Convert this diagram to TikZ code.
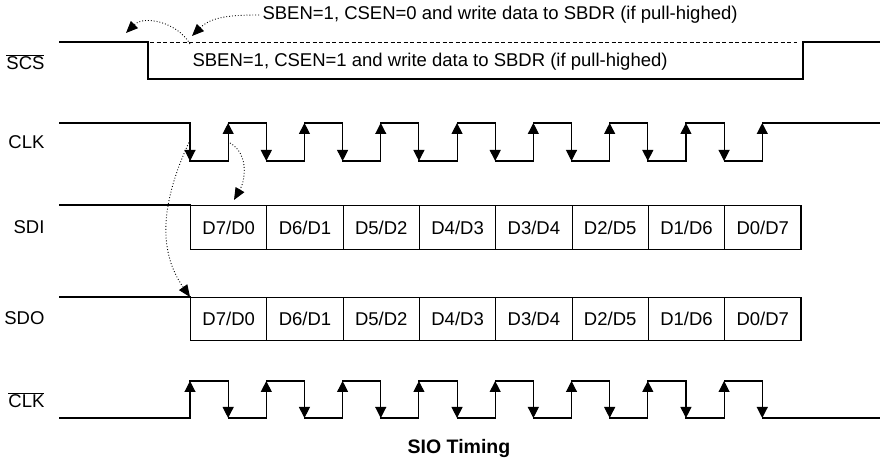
\documentclass[tikz,border=0pt]{standalone}
\usepackage{fontspec}
\setmainfont{Liberation Sans}
\usepackage{tikz}
\usetikzlibrary{positioning,arrows.meta}

\begin{document}
\begin{tikzpicture}[
      x=1pt, y=1pt,
      every node/.style={font=\fontsize{18.5}{21}\selectfont},
      sig/.style={line width=1.1pt, line cap=rect},
      edge/.style={line width=1.1pt, -{Triangle[length=11pt,width=11pt]}},
      cell/.style={draw, line width=1.1pt, minimum width=76.3pt, minimum height=44pt, inner sep=0pt, anchor=north west},
      signame/.style={anchor=east},
      hint/.style={dotted, line width=0.9pt, -{Triangle[length=12pt,width=10pt]}}
    ]
      \useasboundingbox (0,0) rectangle (880,468);

      % Signal names
      \node[signame] (scs) at (48,406) {$\overline{\hbox{SCS}}$};
      \node[signame] (clk) at (48,326) {CLK};
      \node[signame] (sdi) at (48,241) {SDI};
      \node[signame] (sdo) at (48,150) {SDO};
      \node[signame] (nclk) at (48,68) {$\overline{\hbox{CLK}}$};

      % SCS
      \draw[sig] (60,426) -- (148,426) -- (148,389) -- (803,389) -- (803,426) -- (880,426);
      \draw[line width=0.9pt, dash pattern=on 4pt off 2.5pt] (150,426) -- (797,426);
      \node[anchor=west] (cs0) at (259,453) {SBEN=1, CSEN=0 and write data to SBDR (if pull-highed)};
      \node[anchor=west] (cs1) at (189,406) {SBEN=1, CSEN=1 and write data to SBDR (if pull-highed)};

      % CLK and inverted CLK
      \draw[sig] (60,345) -- (190,345);
      \draw[sig] (60,50) -- (190,50);
      \foreach \i in {0,...,7} {
        \pgfmathsetmacro{\xa}{190+76.3*\i}
        \pgfmathsetmacro{\xb}{\xa+38.15}
        \draw[edge] (\xa,345) -- (\xa,307);
        \draw[sig] (\xa,307) -- (\xb,307);
        \draw[edge] (\xb,307) -- (\xb,345);
        \draw[sig] (\xb,345) -- (\xb+38.15,345);
        \draw[edge] (\xa,50) -- (\xa,87);
        \draw[sig] (\xa,87) -- (\xb,87);
        \draw[edge] (\xb,87) -- (\xb,50);
        \draw[sig] (\xb,50) -- (\xb+38.15,50);
      }
      \draw[sig] (763,345) -- (880,345);
      \draw[sig] (763,50) -- (880,50);

      % SDI and SDO
      \draw[sig] (60,263) -- (190,263);
      \draw[sig] (60,171) -- (190,171);
      \foreach \d [count=\i from 0] in {D7/D0,D6/D1,D5/D2,D4/D3,D3/D4,D2/D5,D1/D6,D0/D7} {
        \node[cell] (in\i) at (190+76.3*\i,263) {\d};
        \node[cell, minimum height=43pt] (out\i) at (190+76.3*\i,171) {\d};
      }

      % Hints
      \coordinate (tipA) at (192,432);
      \coordinate (fromB) at (190,424);
      \coordinate (tipB) at (126,435);
      \coordinate (fromC) at (190,328);
      \coordinate (fromD) at (230,325);
      \coordinate (tipD) at (234,268);
      \draw[hint] (cs0.west) to[out=180, in=45] (tipA);
      \draw[hint] (fromB) to[out=120, in=45] (tipB);
      \draw[hint] (fromC) to[out=245, in=125] (out0.north west);
      \draw[hint] (fromD) to[out=-30, in=60] (tipD);

      % Title
      \node[font=\bfseries\fontsize{19.5}{22}\selectfont] (title) at (459,19) {SIO Timing};
    \end{tikzpicture}
\end{document}
